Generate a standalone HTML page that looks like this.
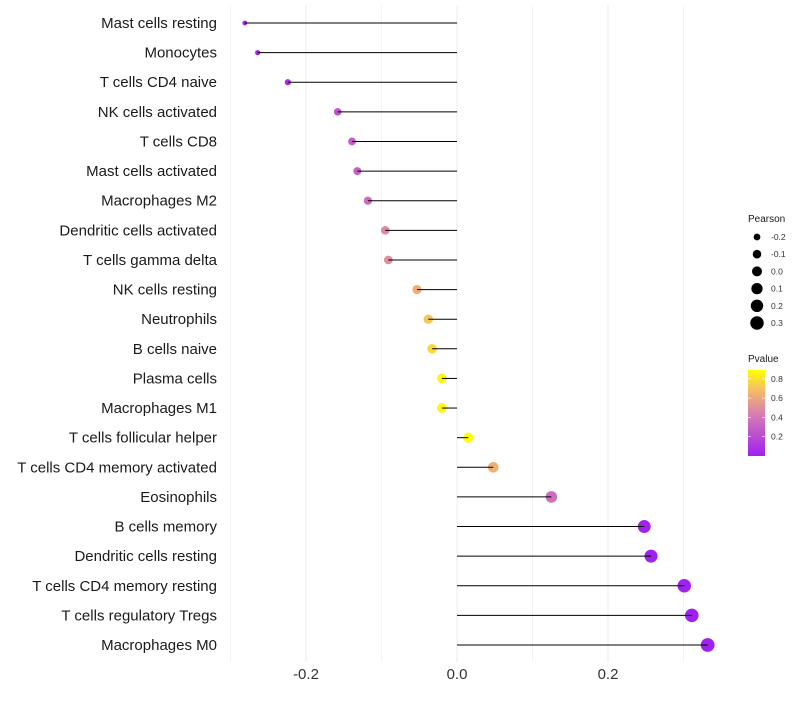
<!DOCTYPE html>
<html><head><meta charset="utf-8"><style>
body{margin:0;background:#fff;font-family:"Liberation Sans",sans-serif}
svg text{font-family:"Liberation Sans",sans-serif}
</style></head><body>
<svg id="c" width="800" height="700">
<defs><linearGradient id="pg" x1="0" y1="1" x2="0" y2="0">
<stop offset="0" stop-color="#A020F0"/><stop offset="0.5" stop-color="#D880B0"/><stop offset="0.78" stop-color="#F5C060"/><stop offset="1" stop-color="#FFFF00"/></linearGradient></defs>
<g id="grid"></g><g id="dots"></g><g id="marks"></g><g id="labels"></g><g id="legend"></g>
</svg>
<script>
const categories=["Mast cells resting","Monocytes","T cells CD4 naive","NK cells activated","T cells CD8","Mast cells activated","Macrophages M2","Dendritic cells activated","T cells gamma delta","NK cells resting","Neutrophils","B cells naive","Plasma cells","Macrophages M1","T cells follicular helper","T cells CD4 memory activated","Eosinophils","B cells memory","Dendritic cells resting","T cells CD4 memory resting","T cells regulatory  Tregs","Macrophages M0"];
const pearson=[-0.281,-0.264,-0.224,-0.158,-0.139,-0.132,-0.118,-0.095,-0.091,-0.053,-0.038,-0.033,-0.020,-0.020,0.015,0.048,0.125,0.248,0.257,0.301,0.311,0.332];
const pvalue=[0.02,0.03,0.06,0.22,0.26,0.27,0.32,0.45,0.47,0.62,0.72,0.77,0.86,0.86,0.9,0.62,0.33,0.01,0.01,0.0,0.0,0.0];
const xTicks=[-0.2,0,0.2];
const xTickLabels=["-0.2","0.0","0.2"];
const xMinor=[-0.3,-0.1,0.1,0.3];
const sizeLegend=[-0.2,-0.1,0.0,0.1,0.2,0.3];
const pLegend=[0.8,0.6,0.4,0.2];
const NS="http://www.w3.org/2000/svg";
const x=v=>457+v*755;
const y=i=>23+i*(622/21);
const r=v=>Math.sqrt(Math.max(3,25+68*v));
function mk(t,a,p){const e=document.createElementNS(NS,t);for(const k in a)e.setAttribute(k,a[k]);p.appendChild(e);return e;}
function lerp(a,b,t){return a.map((v,i)=>Math.round(v+(b[i]-v)*t));}
function col(p){const st=[[0,[160,32,240]],[0.445,[222,136,168]],[0.694,[245,192,96]],[0.89,[255,255,0]]];
 if(p<=0)return `rgb(${st[0][1]})`;for(let i=1;i<st.length;i++){if(p<=st[i][0]){const c=lerp(st[i-1][1],st[i][1],(p-st[i-1][0])/(st[i][0]-st[i-1][0]));return `rgb(${c})`;}}return "rgb(255,255,0)";}
const G=document.getElementById('grid'),D=document.getElementById('dots'),M=document.getElementById('marks'),L=document.getElementById('labels'),LG=document.getElementById('legend');
xMinor.concat(xTicks).forEach(v=>{const l=mk('line',{x1:x(v),x2:x(v),y1:5,y2:662,stroke:'#ebebeb','stroke-width':xTicks.includes(v)?1:0.6},G);

});
xTicks.forEach((v,i)=>{const t=mk('text',{x:x(v),y:679,'text-anchor':'middle','font-size':15,fill:'#333'},L);t.textContent=xTickLabels[i];

});
categories.forEach((c,i)=>{
 const t=mk('text',{x:217,y:y(i)+5,'text-anchor':'end','font-size':15,fill:'#1a1a1a'},L);t.textContent=c;
 
 
 const d=mk('circle',{cx:x(pearson[i]),cy:y(i),r:r(pearson[i]),fill:col(pvalue[i])},D);
 
 
 const s=mk('line',{x1:x(0),x2:x(pearson[i]),y1:y(i),y2:y(i),stroke:'#000','stroke-width':1},M);
 
 
});
let tt=mk('text',{x:748,y:222,'font-size':10,fill:'#1a1a1a'},LG);tt.textContent='Pearson';


sizeLegend.forEach((v,i)=>{const cy=237+i*17.2;
 const d=mk('circle',{cx:757,cy:cy,r:r(v),fill:'#000'},LG);
 
 
 const t=mk('text',{x:771,y:cy+3,'font-size':8.5,fill:'#333'},LG);t.textContent=v.toFixed(1);
 
 });
tt=mk('text',{x:748,y:362,'font-size':10,fill:'#1a1a1a'},LG);tt.textContent='Pvalue';


const bar=mk('rect',{x:748,y:370,width:17,height:86,fill:'url(#pg)'},LG);


pLegend.forEach(v=>{const yy=456-v*96.5;
 mk('line',{x1:748,x2:751,y1:yy,y2:yy,stroke:'#fff','stroke-width':0.6},LG);
 mk('line',{x1:762,x2:765,y1:yy,y2:yy,stroke:'#fff','stroke-width':0.6},LG);
 const t=mk('text',{x:771,y:yy+3,'font-size':8.5,fill:'#333'},LG);t.textContent=v.toFixed(1);
 
 });
</script>
</body></html>
